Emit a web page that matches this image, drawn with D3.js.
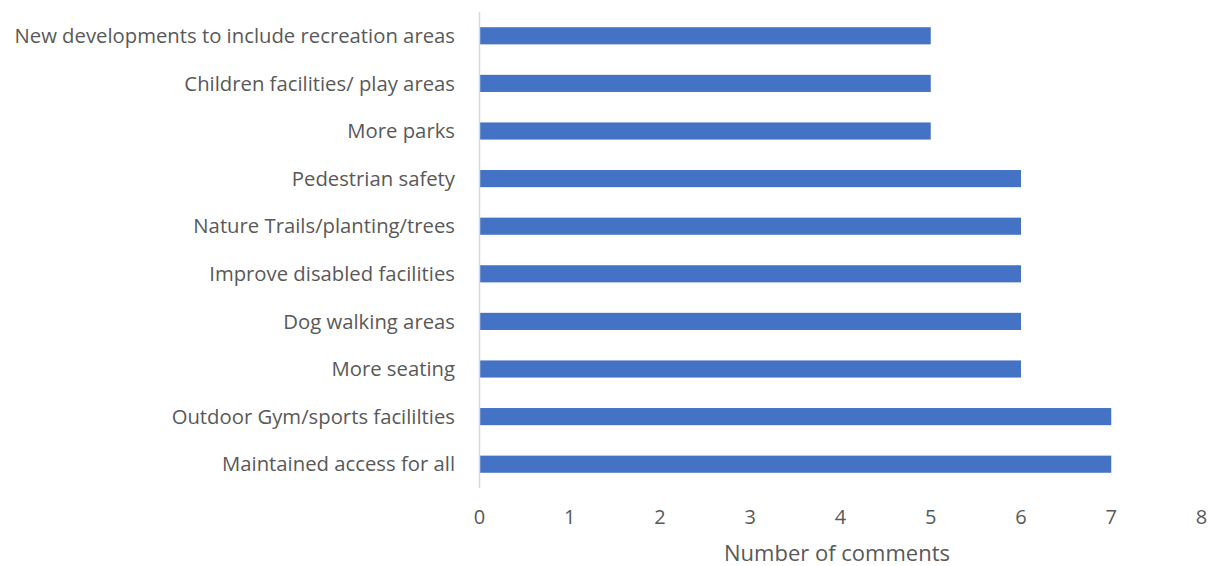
<!DOCTYPE html>
<html><head><meta charset="utf-8">
<script src="https://cdn.jsdelivr.net/npm/d3@7"></script>
<style>body{margin:0;background:#fff;} text{font-family:"Open Sans",sans-serif;}</style>
</head><body><svg id="c" width="1216" height="566"></svg>
<script>
const categories = ["New developments to include recreation areas","Children facilities/ play areas","More parks","Pedestrian safety","Nature Trails/planting/trees","Improve disabled facilities","Dog walking areas","More seating","Outdoor Gym/sports facililties","Maintained access for all"];
const values = [5,5,5,6,6,6,6,6,7,7];
const xTicks = [0,1,2,3,4,5,6,7,8];
const xTitle = "Number of comments";

const svg = d3.select("#c");
const x = d3.scaleLinear().domain([0,8]).range([479.5,1201.5]);
const y = d3.scaleBand().domain(categories).range([12,488]).paddingInner(0.64).paddingOuter(0.32);

svg.selectAll("rect.bar").data(values).join("rect").attr("class","bar")
  .attr("x", x(0)).attr("y",(d,i)=>y(categories[i]))
  .attr("width", d=>x(d)-x(0)).attr("height", y.bandwidth())
  .attr("fill","#4472c4");

svg.append("line").attr("x1",x(0)).attr("x2",x(0)).attr("y1",12).attr("y2",488)
  .attr("stroke","#d9d9d9").attr("stroke-width",1.5);

svg.selectAll("text.cat").data(categories).join("text").attr("class","cat")
  .attr("x",455).attr("y",d=>y(d)+y.bandwidth()/2).attr("dy","0.35em")
  .attr("text-anchor","end").attr("font-size",20.3).attr("fill","#595959").text(d=>d);

svg.selectAll("text.tick").data(xTicks).join("text").attr("class","tick")
  .attr("x",d=>x(d)).attr("y",517).attr("dy","0.35em").attr("text-anchor","middle")
  .attr("font-size",20).attr("fill","#595959").text(d=>d);

svg.append("text").attr("x",837).attr("y",561).attr("text-anchor","middle")
  .attr("font-size",22).attr("fill","#595959").text(xTitle);
</script></body></html>
